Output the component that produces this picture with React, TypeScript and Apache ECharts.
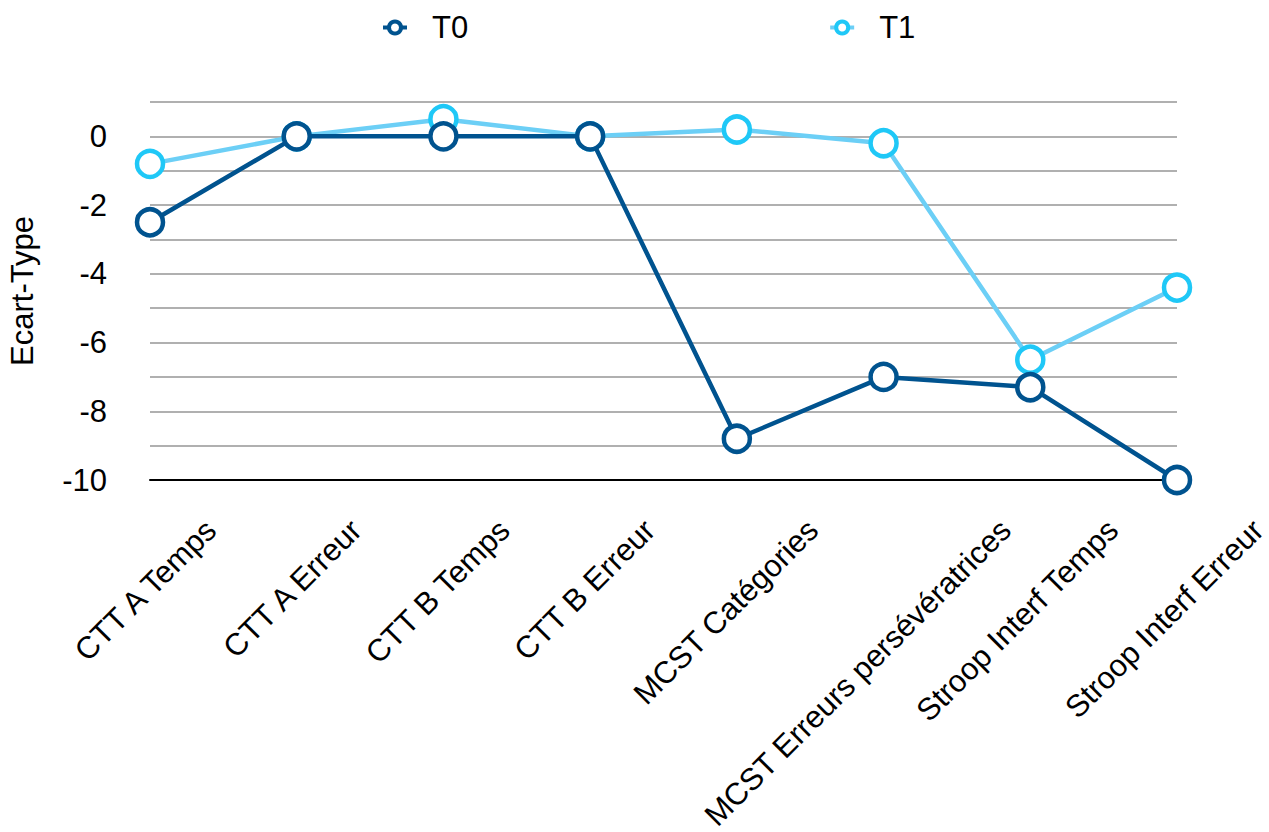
import React, { useEffect, useRef } from "react";
import * as echarts from "echarts";

const categories = [
  "CTT A Temps",
  "CTT A Erreur",
  "CTT B Temps",
  "CTT B Erreur",
  "MCST Catégories",
  "MCST Erreurs persévératrices",
  "Stroop Interf Temps",
  "Stroop Interf Erreur",
];
const t0Values = [-2.5, 0, 0, 0, -8.8, -7.0, -7.3, -10];
const t1Values = [-0.8, 0, 0.5, 0, 0.2, -0.2, -6.5, -4.4];
const seriesNames = ["T0", "T1"];
const yMin = -10;
const yMax = 1;
const yStep = 1;
const yAxisName = "Ecart-Type";

const FONT = "'Liberation Sans', Arial, Helvetica, sans-serif";
const T0_COLOR = "#00538f";
const T1_LINE = "#6ccff6";
const T1_MARK = "#1fc8f7";

export default function App() {
  const ref = useRef<HTMLDivElement>(null);
  useEffect(() => {
    document.body.style.margin = "0";
    const chart = echarts.init(ref.current!, null, { renderer: "svg" });
    const catFont = 31;
    const ctx = document.createElement("canvas").getContext("2d")!;
    ctx.font = `${catFont}px ${FONT}`;
    const rich: Record<string, any> = {};
    categories.forEach((c, i) => {
      const em = ctx.measureText(c).width / catFont;
      const xe = 19.1 + 8.29 * em - 9;
      const p = xe / Math.SQRT2;
      rich["c" + i] = {
        fontSize: catFont,
        fontFamily: FONT,
        color: "#000",
        padding: [2 * p, -p, 0, 0],
      };
    });

    chart.setOption({
      animation: false,
      backgroundColor: "#fff",
      grid: { left: 150, right: 92, top: 102, bottom: 352, outerBoundsMode: "none" },
      legend: {
        left: 376,
        top: 7,
        itemWidth: 24,
        itemHeight: 15,
        itemGap: 360,
        textStyle: { fontSize: 31, fontFamily: FONT, color: "#000", padding: [0, 0, 0, 20] },
        itemStyle: { borderWidth: 4 },
        lineStyle: { width: 4 },
      },
      xAxis: {
        type: "category",
        data: categories,
        boundaryGap: false,
        axisLine: { onZero: false, lineStyle: { color: "#000", width: 2 } },
        axisTick: { show: false },
        splitLine: { show: false },
        axisLabel: {
          interval: 0,
          rotate: 45,
          margin: 45,
          align: "right",
          verticalAlign: "middle",
          fontSize: catFont,
          fontFamily: FONT,
          color: "#000",
          formatter: (v: string, i: number) => `{c${i}|${v}}`,
          rich,
        },
      },
      yAxis: {
        type: "value",
        min: yMin,
        max: yMax,
        interval: yStep,
        name: yAxisName,
        nameLocation: "middle",
        nameGap: 112,
        nameRotate: 90,
        nameTextStyle: { fontSize: 31, fontFamily: FONT, color: "#000" },
        axisLine: { show: false },
        axisTick: { show: false },
        axisLabel: {
          margin: 43,
          fontSize: 31,
          fontFamily: FONT,
          color: "#000",
          formatter: (v: number) => (Math.round(v) % 2 === 0 ? String(v) : ""),
        },
        splitLine: { lineStyle: { color: "#b0b0b0", width: 2 } },
      },
      series: [
        {
          name: seriesNames[0],
          type: "line",
          data: t0Values,
          z: 3,
          symbol: "circle",
          symbolSize: 26,
          lineStyle: { color: T0_COLOR, width: 4.5 },
          itemStyle: { color: "#fff", borderColor: T0_COLOR, borderWidth: 4.5 },
        },
        {
          name: seriesNames[1],
          type: "line",
          data: t1Values,
          z: 2,
          symbol: "circle",
          symbolSize: 26,
          lineStyle: { color: T1_LINE, width: 4.5 },
          itemStyle: { color: "#fff", borderColor: T1_MARK, borderWidth: 4.5 },
        },
      ],
    });
    return () => chart.dispose();
  }, []);
  return <div ref={ref} style={{ width: 1269, height: 832 }} />;
}
